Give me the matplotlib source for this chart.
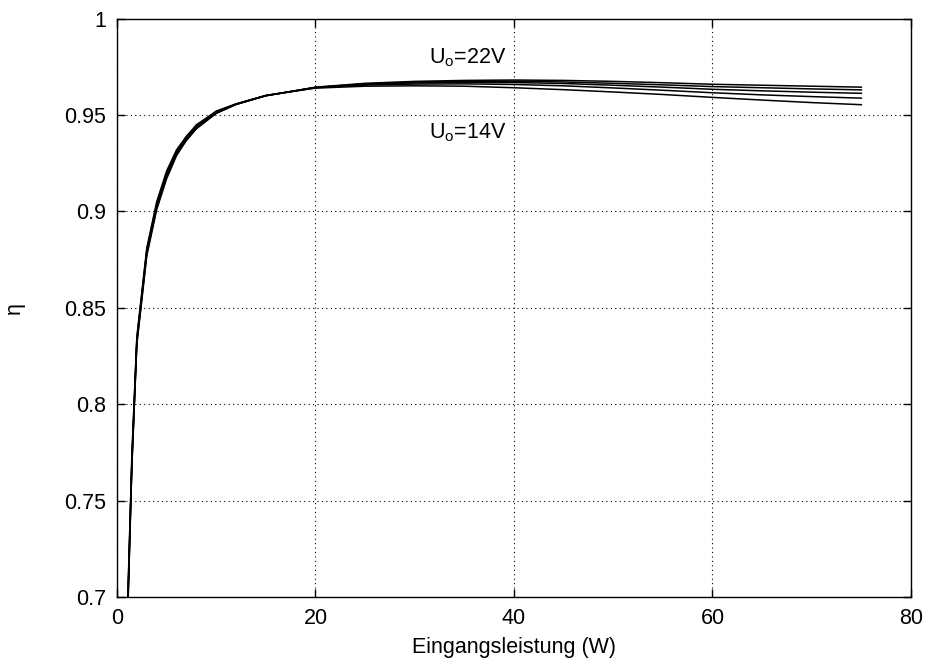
import matplotlib
matplotlib.use('Agg')
from matplotlib import pyplot as plt

plt.rcParams['font.family'] = ['Liberation Sans', 'DejaVu Sans']
plt.rcParams['mathtext.fontset'] = 'custom'
plt.rcParams['mathtext.rm'] = 'Liberation Sans'
plt.rcParams['font.size'] = 15.5

# input power (W) and efficiency for output voltages 22, 20, 18, 16, 14 V
power = [1.0, 1.5, 2, 3, 4, 5, 6, 7, 8, 10, 12, 15, 20, 25, 30, 35, 40, 45, 50, 55, 60, 65, 70, 75]
eta_22 = [0.676, 0.768, 0.831, 0.877, 0.901, 0.917, 0.929, 0.937, 0.943, 0.951, 0.9555, 0.9600,
          0.9645, 0.9665, 0.9675, 0.9680, 0.9682, 0.9680, 0.9675, 0.9668, 0.9660, 0.9655, 0.9650, 0.9645]
eta_20 = [0.678, 0.769, 0.832, 0.878, 0.902, 0.918, 0.930, 0.937, 0.943, 0.951, 0.9556, 0.9601,
          0.9644, 0.9662, 0.9671, 0.9675, 0.9676, 0.9672, 0.9665, 0.9657, 0.9648, 0.9642, 0.9636, 0.9631]
eta_18 = [0.680, 0.770, 0.833, 0.879, 0.903, 0.919, 0.930, 0.938, 0.944, 0.951, 0.9557, 0.9601,
          0.9643, 0.9660, 0.9667, 0.9670, 0.9669, 0.9664, 0.9655, 0.9645, 0.9634, 0.9626, 0.9619, 0.9613]
eta_16 = [0.682, 0.772, 0.834, 0.880, 0.904, 0.920, 0.931, 0.939, 0.944, 0.952, 0.9558, 0.9602,
          0.9642, 0.9656, 0.9661, 0.9662, 0.9659, 0.9652, 0.9641, 0.9629, 0.9616, 0.9605, 0.9596, 0.9588]
eta_14 = [0.684, 0.774, 0.835, 0.881, 0.905, 0.921, 0.932, 0.939, 0.945, 0.952, 0.9558, 0.9602,
          0.9640, 0.9650, 0.9652, 0.9650, 0.9642, 0.9632, 0.9620, 0.9607, 0.9592, 0.9578, 0.9565, 0.9554]

curves = [eta_22, eta_20, eta_18, eta_16, eta_14]

fig = plt.figure(figsize=(9.33, 6.69), dpi=100)
ax = fig.add_axes([0.1254, 0.1076, 0.851, 0.8644])

for eta in curves:
    ax.plot(power, eta, color='black', linewidth=1.1)

ax.set_xlim(0, 80)
ax.set_ylim(0.7, 1.0)
ax.set_xticks([0, 20, 40, 60, 80])
ax.set_yticks([0.7, 0.75, 0.8, 0.85, 0.9, 0.95, 1.0])
ax.set_yticklabels(['0.7', '0.75', '0.8', '0.85', '0.9', '0.95', '1'])
ax.tick_params(direction='in', top=True, right=True, length=6, width=1, pad=8)
ax.grid(True, linestyle=(0, (1, 3)), color='black', linewidth=0.8)
for s in ax.spines.values():
    s.set_linewidth(1.0)

ax.text(39.2, 0.980, r'U$_\mathrm{o}$=22V', ha='right', va='center')
ax.text(39.2, 0.941, r'U$_\mathrm{o}$=14V', ha='right', va='center')

ax.set_xlabel('Eingangsleistung (W)', labelpad=6)
ax.set_ylabel('η', labelpad=28)

fig.savefig('out.png', dpi=100)
